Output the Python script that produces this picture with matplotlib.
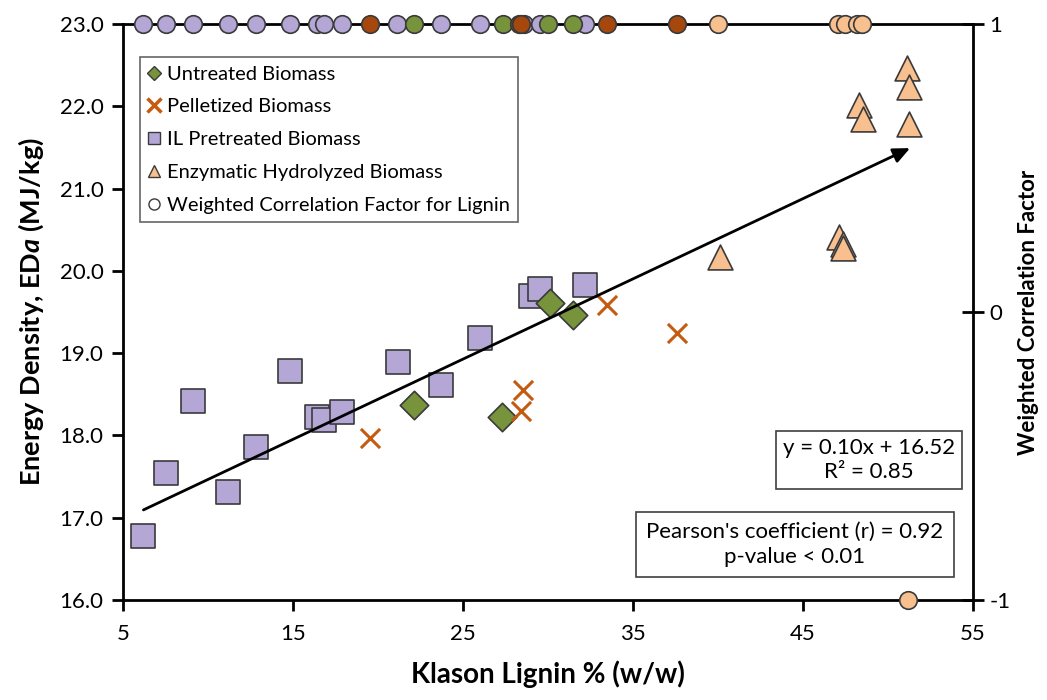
import matplotlib
matplotlib.use("Agg")
import matplotlib.pyplot as plt
from matplotlib.lines import Line2D
import numpy as np

# ---- data ----
untreated_x = [22.1, 27.3, 30.1, 31.5]
untreated_y = [18.37, 18.22, 19.61, 19.46]

pellet_x = [19.5, 28.5, 28.4, 33.5, 37.6]
pellet_y = [17.97, 18.55, 18.30, 19.59, 19.24]

il_x = [6.2, 7.5, 9.1, 11.2, 12.8, 14.8, 16.4, 16.8, 17.9, 21.2, 23.7, 26.0, 29.0, 29.5, 32.2]
il_y = [16.78, 17.54, 18.42, 17.31, 17.86, 18.78, 18.22, 18.19, 18.29, 18.89, 18.61, 19.18, 19.69, 19.78, 19.83]

enz_x = [51.1, 51.25, 48.3, 48.55, 51.25, 40.1, 47.1, 47.35, 47.35]
enz_y = [22.46, 22.24, 22.02, 21.84, 21.78, 20.17, 20.41, 20.33, 20.28]

# weighted correlation factor for lignin (secondary axis)
wcf_il_x = [6.2, 7.5, 9.1, 11.2, 12.8, 14.8, 16.4, 16.8, 17.9, 21.1, 23.7, 26.0, 28.6, 29.5, 32.2]
wcf_il_y = [1] * 15
wcf_un_x = [22.1, 27.35, 30.0, 31.5]
wcf_un_y = [1, 1, 1, 1]
wcf_pel_x = [19.5, 28.3, 28.4, 33.5, 37.6]
wcf_pel_y = [1, 1, 1, 1, 1]
wcf_enz_x = [40.0, 47.05, 47.45, 48.2, 48.5, 51.2]
wcf_enz_y = [1, 1, 1, 1, 1, -1]

trend_slope = 0.0975
trend_intercept = 16.49
trend_x = [6.2, 51.3]

x_ticks = [5, 15, 25, 35, 45, 55]
y_ticks = [16.0, 17.0, 18.0, 19.0, 20.0, 21.0, 22.0, 23.0]
y2_ticks = [-1, 0, 1]

# ---- style ----
plt.rcParams['font.family'] = ['Lato', 'DejaVu Sans']
plt.rcParams['mathtext.fontset'] = 'custom'
plt.rcParams['mathtext.rm'] = 'Lato:bold'
plt.rcParams['mathtext.it'] = 'Lato:bold:italic'
plt.rcParams['mathtext.bf'] = 'Lato:bold'

c_green = '#77933C'
c_xorange = '#C55A11'
c_brown = '#A6470E'
c_purple = '#B4A7D6'
c_peach = '#F8BF8F'
c_edge = '#3A3A3A'

fig = plt.figure(figsize=(10.47, 7.0), dpi=100)
ax = fig.add_axes([0.1175, 0.1429, 0.8118, 0.8228])

ax.scatter(il_x, il_y, marker='s', s=280, facecolor=c_purple, edgecolor=c_edge, linewidth=1.2, zorder=3)
ax.scatter(untreated_x, untreated_y, marker='D', s=210, facecolor=c_green, edgecolor=c_edge, linewidth=1.2, zorder=3)
ax.scatter(pellet_x, pellet_y, marker='x', s=190, color=c_xorange, linewidth=2.2, zorder=3)
ax.scatter(enz_x, enz_y, marker='^', s=320, facecolor=c_peach, edgecolor=c_edge, linewidth=1.2, zorder=3)

tx = np.array(trend_x)
ty = trend_slope * tx + trend_intercept
ax.annotate('', xy=(tx[1], ty[1]), xytext=(tx[0], ty[0]),
            arrowprops=dict(arrowstyle='-|>,head_length=1.0,head_width=0.45', color='black', lw=2.0,
                            shrinkA=0, shrinkB=0), zorder=4)

ax.set_xlim(5, 55)
ax.set_ylim(16, 23)
ax.set_xticks(x_ticks)
ax.set_xticklabels([str(v) for v in x_ticks])
ax.set_yticks(y_ticks)
ax.set_yticklabels([f"{v:.1f}" for v in y_ticks])
ax.tick_params(axis='both', direction='out', length=8, width=2, labelsize=16, pad=6, colors='black')
ax.tick_params(axis='x', pad=9)
for s in ['left', 'bottom', 'top']:
    ax.spines[s].set_linewidth(2)
ax.spines['right'].set_visible(False)

ax.set_xlabel('Klason Lignin % (w/w)', fontsize=20, fontweight='bold', labelpad=12)
ax.set_ylabel(r'Energy Density, ED$\mathit{a}$ (MJ/kg)', fontsize=19.5, fontweight='bold', labelpad=10)

ax2 = ax.twinx()
ax2.set_ylim(-1, 1)
ax2.set_yticks(y2_ticks)
ax2.set_yticklabels([str(v) for v in y2_ticks])
ax2.tick_params(axis='y', direction='inout', length=16, width=2, labelsize=16, pad=4)
ax2.spines['right'].set_linewidth(2)
for s in ['left', 'top', 'bottom']:
    ax2.spines[s].set_visible(False)
ax2.set_ylabel('Weighted Correlation Factor', fontsize=16, fontweight='bold', labelpad=5)

for xs, ys, col in [(wcf_il_x, wcf_il_y, c_purple), (wcf_un_x, wcf_un_y, c_green),
                    (wcf_pel_x, wcf_pel_y, c_brown), (wcf_enz_x, wcf_enz_y, c_peach)]:
    ax2.scatter(xs, ys, marker='o', s=160, facecolor=col, edgecolor=c_edge, linewidth=1.2,
                clip_on=False, zorder=5)

# legend
handles = [
    Line2D([], [], linestyle='none', marker='D', markersize=7, markerfacecolor=c_green, markeredgecolor=c_edge),
    Line2D([], [], linestyle='none', marker='x', markersize=10, color=c_xorange, markeredgewidth=2.5),
    Line2D([], [], linestyle='none', marker='s', markersize=9, markerfacecolor=c_purple, markeredgecolor=c_edge),
    Line2D([], [], linestyle='none', marker='^', markersize=9, markerfacecolor=c_peach, markeredgecolor=c_edge),
    Line2D([], [], linestyle='none', marker='o', markersize=8, markerfacecolor='white', markeredgecolor=c_edge),
]
labels = ['Untreated Biomass', 'Pelletized Biomass', 'IL Pretreated Biomass',
          'Enzymatic Hydrolyzed Biomass', 'Weighted Correlation Factor for Lignin']
leg = ax2.legend(handles, labels, loc='upper left', bbox_to_anchor=(0.02, 0.942), fontsize=14.5,
                 frameon=True, fancybox=False, edgecolor='#404040', handlelength=0.6,
                 handletextpad=0.35, labelspacing=0.78, borderpad=0.4, borderaxespad=0)
leg.get_frame().set_linewidth(1.2)

ax.text(0.8776, 0.243, 'y = 0.10x + 16.52\nR² = 0.85', transform=ax.transAxes, ha='center', va='center',
        fontsize=16, multialignment='center', linespacing=1.25,
        bbox=dict(boxstyle='square,pad=0.3', facecolor='white', edgecolor='#404040', linewidth=1.2), zorder=6)
ax.text(0.7906, 0.097, "Pearson's coefficient (r) = 0.92\np-value < 0.01", transform=ax.transAxes,
        ha='center', va='center', fontsize=16, multialignment='center', linespacing=1.3,
        bbox=dict(boxstyle='square,pad=0.45', facecolor='white', edgecolor='#404040', linewidth=1.2), zorder=6)

fig.savefig('out.png', dpi=100)
